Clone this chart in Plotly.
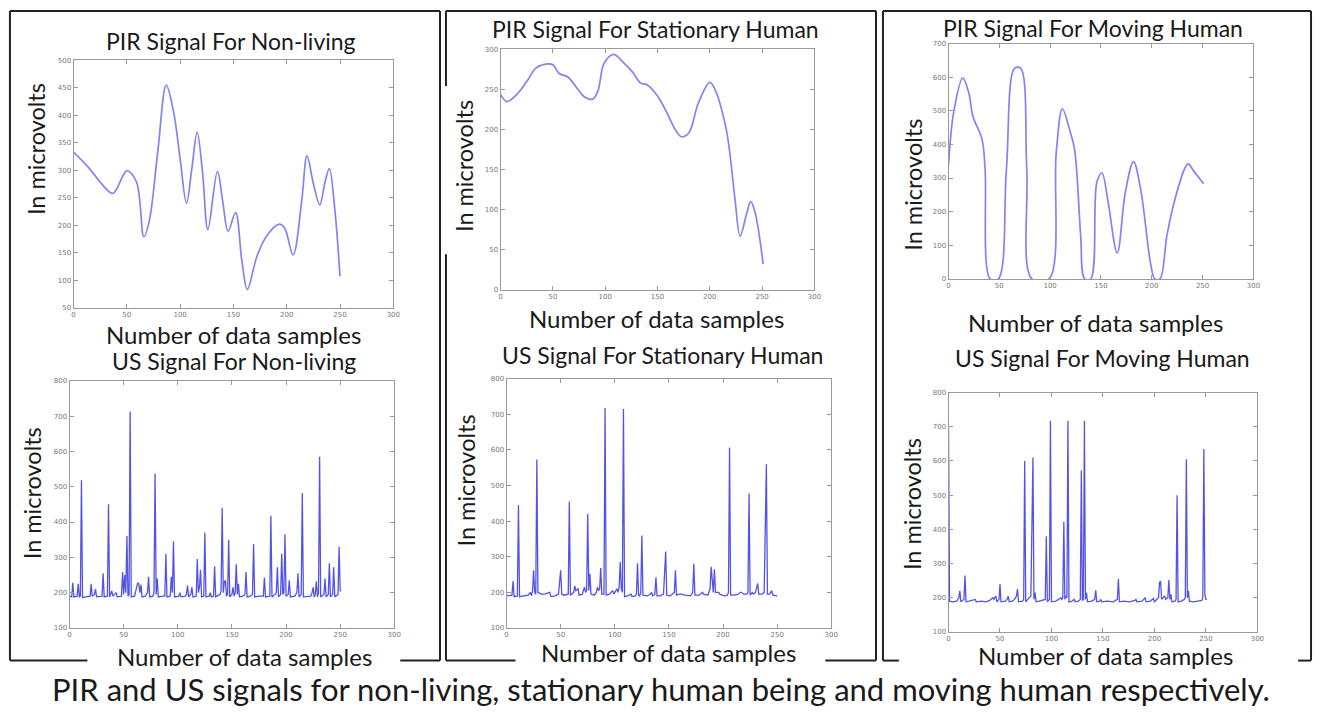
import plotly.graph_objects as go

W, H = 1321, 716

# ---------------- DATA ----------------
pir_nl_x = [0, 15, 26, 37, 50, 59, 66, 71, 79, 87, 94, 100, 106, 111, 116, 121, 126, 135, 140, 145, 152, 158, 163, 172, 181, 193, 198, 206, 214, 219, 225, 231, 236, 240, 245, 250]
pir_nl_y = [333, 303, 276, 258, 299, 279, 179, 207, 333, 455, 405, 321, 240, 303, 369, 297, 192, 298, 243, 189, 223, 134, 83, 143, 180, 202, 195, 146, 243, 326, 276, 237, 279, 303, 231, 107]

pir_st_x = [0, 6, 17, 26, 34, 45, 50, 56, 64, 74, 80, 88, 93, 99, 108, 118, 126, 134, 140, 150, 159, 167, 173, 180, 189, 200, 205, 215, 219, 224, 229, 235, 239, 243, 251]
pir_st_y = [244, 235, 246, 262, 277, 282, 281, 270, 266, 250, 241, 238, 248, 283, 294, 283, 272, 258, 256, 242, 221, 200, 191, 196, 233, 259, 250, 205, 172, 114, 67, 94, 110, 98, 32]

pir_mv_x = [0, 5, 14, 20, 24, 33, 36, 41, 49, 57, 65, 71, 77, 82, 99, 106, 112, 119, 124, 130, 134, 140, 146, 151, 157, 166, 174, 182, 189, 199, 203, 208, 215, 223, 233, 236, 241, 251]
pir_mv_y = [337, 494, 597, 553, 484, 415, 327, 0, 0, 327, 626, 626, 327, 0, 0, 376, 506, 445, 386, 131, 0, 0, 288, 315, 229, 77, 258, 349, 268, 42, 0, 0, 131, 239, 332, 342, 322, 283]

us_nl_x = [0, 2, 3, 4, 7, 8, 9, 10, 11, 12, 15, 19, 20, 21, 23, 24, 25, 28, 30, 31, 32, 35, 36, 37, 39, 40, 43, 44, 48, 49, 50, 51, 52, 53, 54, 55, 56, 57, 60, 62, 63, 64, 65, 66, 67, 70, 72, 73, 74, 77, 78, 79, 80, 81, 82, 86, 88, 89, 90, 93, 94, 95, 96, 97, 101, 102, 103, 107, 108, 109, 110, 112, 113, 114, 117, 118, 119, 120, 121, 122, 124, 125, 126, 129, 130, 131, 133, 134, 135, 139, 140, 141, 142, 143, 144, 145, 146, 147, 148, 150, 151, 152, 153, 154, 155, 156, 157, 160, 162, 163, 164, 167, 169, 170, 171, 175, 179, 180, 181, 185, 186, 187, 190, 191, 192, 193, 195, 196, 197, 198, 199, 200, 202, 203, 204, 208, 210, 211, 212, 214, 215, 216, 220, 223, 224, 225, 226, 227, 228, 229, 230, 231, 232, 235, 236, 237, 239, 240, 241, 243, 244, 245, 248, 249, 250, 251]
us_nl_y = [190, 188, 228, 188, 190, 225, 188, 190, 518, 186, 188, 190, 225, 190, 195, 210, 188, 188, 190, 255, 188, 190, 450, 188, 205, 190, 200, 188, 190, 258, 195, 250, 200, 360, 190, 195, 713, 188, 190, 215, 228, 225, 200, 222, 188, 190, 200, 245, 188, 190, 200, 537, 195, 240, 188, 190, 190, 310, 188, 190, 245, 200, 345, 188, 190, 200, 188, 190, 195, 220, 188, 195, 215, 188, 190, 295, 200, 215, 265, 188, 190, 370, 188, 190, 200, 188, 190, 275, 188, 195, 205, 440, 200, 230, 235, 190, 195, 350, 188, 195, 215, 190, 200, 280, 195, 225, 188, 190, 195, 258, 188, 190, 195, 338, 188, 190, 190, 243, 188, 190, 418, 188, 195, 200, 272, 188, 195, 310, 195, 200, 365, 190, 195, 235, 188, 190, 200, 255, 188, 195, 482, 188, 190, 190, 200, 215, 188, 195, 232, 188, 200, 585, 188, 195, 240, 188, 195, 283, 188, 195, 272, 188, 195, 330, 205, 205]

us_st_x = [0, 5, 6, 7, 10, 11, 12, 15, 20, 22, 23, 24, 25, 26, 27, 28, 29, 32, 35, 40, 41, 45, 48, 50, 51, 53, 57, 58, 59, 62, 63, 64, 66, 67, 70, 72, 73, 74, 75, 76, 77, 78, 81, 83, 84, 85, 86, 87, 88, 90, 91, 92, 95, 98, 99, 101, 102, 103, 104, 105, 106, 107, 108, 109, 112, 115, 116, 119, 120, 121, 122, 123, 124, 125, 126, 130, 133, 134, 135, 137, 138, 139, 142, 145, 147, 148, 151, 153, 155, 156, 157, 160, 161, 165, 170, 172, 173, 174, 178, 181, 182, 186, 188, 189, 190, 191, 192, 193, 196, 197, 199, 202, 204, 205, 206, 207, 210, 214, 216, 217, 219, 222, 223, 224, 225, 227, 228, 230, 232, 233, 236, 238, 240, 241, 243, 245, 246, 250]
us_st_y = [190, 192, 232, 188, 190, 445, 188, 190, 192, 200, 190, 205, 262, 200, 195, 573, 200, 195, 195, 200, 188, 190, 195, 262, 195, 192, 195, 455, 192, 200, 218, 205, 210, 192, 195, 215, 200, 205, 420, 205, 252, 195, 192, 200, 215, 205, 210, 268, 195, 195, 718, 192, 195, 205, 195, 205, 210, 200, 215, 285, 210, 200, 715, 188, 190, 195, 188, 190, 195, 282, 192, 190, 200, 360, 192, 190, 195, 200, 190, 195, 242, 190, 190, 195, 315, 192, 190, 195, 200, 262, 192, 195, 195, 192, 190, 200, 280, 192, 192, 200, 195, 192, 210, 272, 220, 200, 265, 200, 200, 195, 192, 190, 192, 200, 607, 192, 192, 195, 200, 200, 195, 195, 200, 478, 192, 200, 195, 200, 225, 195, 195, 200, 560, 195, 195, 205, 192, 190]

us_mv_x = [0, 1, 4, 8, 10, 11, 12, 15, 16, 17, 20, 24, 26, 27, 32, 36, 40, 43, 44, 46, 47, 49, 50, 51, 55, 57, 58, 59, 62, 64, 66, 67, 68, 72, 73, 74, 75, 77, 79, 80, 82, 83, 84, 85, 88, 92, 94, 95, 96, 98, 99, 100, 104, 107, 109, 110, 111, 112, 113, 114, 115, 116, 117, 120, 122, 123, 126, 128, 129, 130, 131, 132, 133, 134, 135, 139, 142, 143, 144, 147, 148, 149, 154, 160, 164, 165, 166, 170, 176, 181, 182, 183, 188, 191, 192, 196, 199, 200, 203, 204, 205, 206, 207, 209, 210, 211, 213, 214, 215, 216, 217, 220, 221, 222, 223, 226, 229, 230, 231, 232, 233, 234, 238, 242, 246, 247, 248, 249, 250, 251]
us_mv_y = [700, 190, 188, 190, 200, 220, 188, 195, 265, 188, 190, 192, 195, 188, 190, 188, 192, 200, 195, 205, 188, 195, 240, 188, 190, 195, 205, 188, 190, 195, 205, 225, 188, 190, 195, 600, 188, 195, 200, 205, 610, 195, 215, 188, 190, 192, 195, 380, 188, 195, 718, 188, 190, 195, 200, 195, 200, 422, 195, 205, 200, 718, 188, 190, 195, 188, 190, 195, 572, 192, 195, 718, 195, 215, 188, 190, 195, 222, 188, 190, 195, 188, 190, 188, 195, 255, 188, 190, 188, 192, 195, 188, 190, 200, 188, 190, 198, 188, 195, 200, 245, 248, 195, 200, 205, 195, 200, 252, 195, 210, 188, 190, 195, 500, 188, 190, 195, 200, 605, 200, 220, 190, 188, 190, 192, 200, 635, 210, 195, 195]

titles = ["PIR Signal For Non-living", "US Signal For Non-living",
          "PIR Signal For Stationary Human", "US Signal For Stationary Human",
          "PIR Signal For Moving Human", "US Signal For Moving Human"]
x_label = "Number of data samples"
y_label = "In microvolts"
caption = "PIR and US signals for non-living, stationary human being and moving human respectively."

y_ranges = [[50, 500], [100, 800], [0, 300], [100, 800], [0, 700], [100, 800]]
y_dticks = [50, 100, 50, 100, 100, 100]

# ---------------- LAYOUT (pixels) ----------------
def fx(p):
    return p / W

def fy(p):
    return 1 - p / H

# plot-area boxes: (left, right, top, bottom) in px
boxes = [(72, 394, 57, 307), (68, 395, 381, 631),
         (502, 818, 46, 289), (508, 835, 379, 631),
         (953, 1260, 40, 278), (953, 1264, 393, 635)]
title_pos = [(231, 37), (234, 361), (658, 25), (665, 355), (1098, 24), (1108, 358)]
xlab_pos = [(233, 334), (244, 660), (659, 318), (671, 656), (1101, 322), (1111, 659)]
ylab_pos = [(35, 147), (31, 495), (465, 164), (467, 482), (917, 183), (917, 506)]

FONT = "Lato"

fig = go.Figure()

series = [(pir_nl_x, pir_nl_y, True), (us_nl_x, us_nl_y, False),
          (pir_st_x, pir_st_y, True), (us_st_x, us_st_y, False),
          (pir_mv_x, pir_mv_y, True), (us_mv_x, us_mv_y, False)]

for i, (xs, ys, smooth) in enumerate(series):
    n = "" if i == 0 else str(i + 1)
    if smooth:
        line = dict(color="rgba(100,100,240,0.8)", width=1.7, shape="spline", smoothing=1.0)
    else:
        line = dict(color="rgba(40,40,225,0.8)", width=1.3)
    fig.add_trace(go.Scatter(x=xs, y=ys, mode="lines", line=line,
                             xaxis="x" + n, yaxis="y" + n, showlegend=False,
                             hoverinfo="skip"))

axis_common = dict(showgrid=False, zeroline=False, showline=True, mirror="ticks",
                   linecolor="#9a9a9a", linewidth=1, ticks="inside", ticklen=4,
                   tickcolor="#9a9a9a", tickfont=dict(family="DejaVu Sans", size=7, color="#777"))

layout = dict(width=W, height=H, margin=dict(l=0, r=0, t=0, b=0),
              paper_bgcolor="white", plot_bgcolor="white", showlegend=False)

for i, (l, r, t, b) in enumerate(boxes):
    n = "" if i == 0 else str(i + 1)
    layout["xaxis" + n] = dict(domain=[fx(l), fx(r)], range=[0, 300], dtick=50,
                               anchor="y" + n, **axis_common)
    layout["yaxis" + n] = dict(domain=[fy(b), fy(t)], range=y_ranges[i], dtick=y_dticks[i],
                               anchor="x" + n, **axis_common)

annotations = []
for i in range(6):
    annotations.append(dict(text=titles[i], x=fx(title_pos[i][0]), y=fy(title_pos[i][1]),
                            xref="paper", yref="paper", showarrow=False,
                            xanchor="center", yanchor="middle",
                            font=dict(family=FONT, size=23, color="#1a1a1a")))
    annotations.append(dict(text=x_label, x=fx(xlab_pos[i][0]), y=fy(xlab_pos[i][1]),
                            xref="paper", yref="paper", showarrow=False,
                            xanchor="center", yanchor="middle",
                            font=dict(family=FONT, size=24, color="#1a1a1a")))
    annotations.append(dict(text=y_label, x=fx(ylab_pos[i][0]), y=fy(ylab_pos[i][1]),
                            xref="paper", yref="paper", showarrow=False, textangle=-90,
                            xanchor="center", yanchor="middle",
                            font=dict(family=FONT, size=23.5, color="#1a1a1a")))
annotations.append(dict(text=caption, x=fx(664), y=fy(693), xref="paper", yref="paper",
                        showarrow=False, xanchor="center", yanchor="middle",
                        font=dict(family=FONT, size=31, color="#1a1a1a")))
layout["annotations"] = annotations

# border segments (px)
segs = [
    (8, 7, 441, 7), (8, 7, 8, 664), (441, 7, 441, 664), (8, 664, 86, 664), (401, 664, 441, 664),
    (447, 7, 880, 7), (447, 7, 447, 83), (447, 253, 447, 664), (880, 7, 880, 664),
    (447, 664, 517, 664), (829, 664, 880, 664),
    (887, 7, 1318, 7), (887, 7, 887, 664), (1318, 7, 1318, 664),
    (887, 664, 903, 664), (1305, 664, 1318, 664),
]
shapes = []
for (x0, y0, x1, y1) in segs:
    shapes.append(dict(type="line", xref="paper", yref="paper",
                       x0=fx(x0), y0=fy(y0), x1=fx(x1), y1=fy(y1),
                       line=dict(color="#222", width=2)))
layout["shapes"] = shapes

fig.update_layout(**layout)
fig.write_html("out.html", config={"displayModeBar": False},
               post_script="document.body.style.margin='0px';document.body.style.overflow='hidden';")
